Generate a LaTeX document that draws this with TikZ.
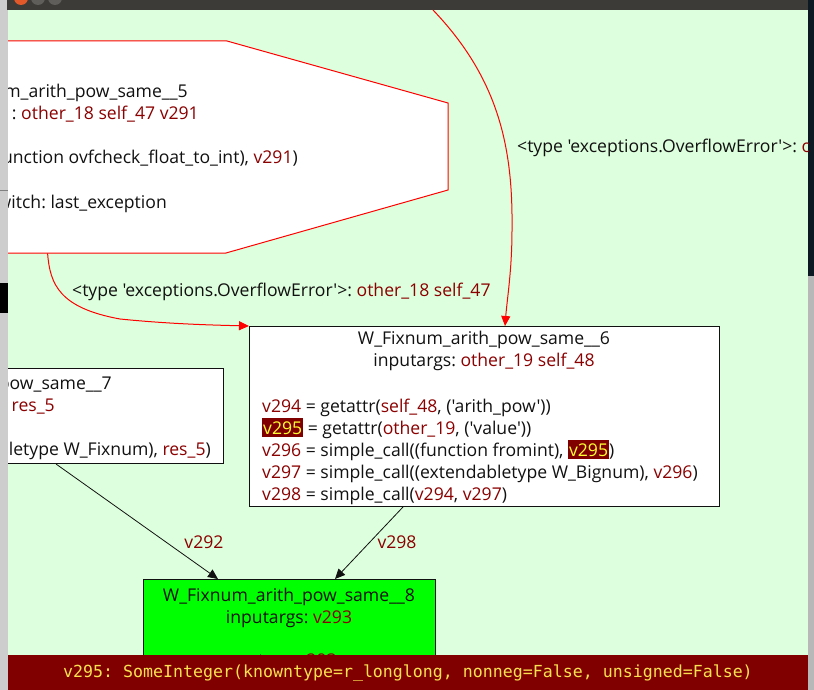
\documentclass[tikz,border=0pt]{standalone}
\usepackage{fontspec}
\newfontfamily\gf{Open Sans}
\newfontfamily\mf{DejaVu Sans Mono}
\usetikzlibrary{arrows.meta,calc}
\definecolor{bg}{RGB}{221,255,221}
\definecolor{vr}{RGB}{139,0,0}
\definecolor{sb}{RGB}{128,0,0}
\definecolor{sy}{RGB}{250,225,80}
\definecolor{hy}{RGB}{255,255,50}
\definecolor{ink}{RGB}{17,17,17}
\definecolor{gr8}{RGB}{0,255,0}
\definecolor{tbar}{RGB}{60,59,55}
\definecolor{navy}{RGB}{12,24,34}
\definecolor{chromeL}{RGB}{205,205,205}
\definecolor{chromeR}{RGB}{184,184,184}
\definecolor{btnO}{RGB}{226,88,40}
\definecolor{btnG}{RGB}{95,94,90}
\newcommand{\vv}[1]{\textcolor{vr}{#1}}
\newcommand{\hlv}[1]{{\setlength{\fboxsep}{0pt}\colorbox{sb}{\kern1pt\textcolor{hy}{\rule[-3pt]{0pt}{19pt}#1}\kern1pt}}}
\frenchspacing
\begin{document}
\begin{tikzpicture}[x=1pt,y=-1pt,
  txt/.style={inner sep=0pt, font=\gf\fontsize{17.6}{22}\selectfont, text=ink},
  blk/.style={draw=ink, line width=1pt, fill=white, inner sep=0pt},
  redge/.style={draw=red, line width=1pt, -{Triangle[length=10pt,width=9pt]}},
  bedge/.style={draw=ink, line width=0.8pt, -{Triangle[length=10pt,width=9pt]}}]
\useasboundingbox (0,0) rectangle (814,690);
% window chrome
\fill[chromeL] (0,0) rectangle (8,690);
\draw[gray, line width=1pt] (0,190) -- (8,190);
\fill[black] (0,283) rectangle (8,313);
\fill[tbar] (7,0) rectangle (808,10);
\begin{scope}
  \clip (7,0) rectangle (808,10);
  \fill[btnO] (21,-2) circle (7);
  \fill[btnG] (38,-2) circle (7);
  \fill[btnG] (55,-2) circle (7);
\end{scope}
\fill[navy] (808,0) rectangle (814,276);
\fill[chromeR] (808,276) rectangle (814,690);
% canvas
\fill[bg] (8,10) rectangle (808,690);
\begin{scope}
\clip (8,10) rectangle (808,655);
% node 5 (octagon, partly off screen)
\node[inner sep=0pt, minimum width=766pt, minimum height=212pt, anchor=north east] (n5) at (448,41) {};
\draw[red, line width=1pt, fill=white] (-330,41) -- (227,41) -- (448,103) -- (448,190) -- (226,253) -- (-330,253) -- cycle;
\node[txt, anchor=base east] (n5a) at (188,98) {m\_arith\_pow\_same\_\_5};
\node[txt, anchor=base east] (n5b) at (199,120) {: \vv{other\_18 self\_47 v291}};
\node[txt, anchor=base east] (n5c) at (298,164) {unction ovfcheck\_float\_to\_int), \vv{v291})};
\node[txt, anchor=base east] (n5d) at (167,208) {witch: last\_exception};
% node 6
\node[blk, minimum width=470pt, minimum height=180pt, anchor=north west] (n6) at (249,326) {};
\node[txt, anchor=base] (n6t) at (484,344) {W\_Fixnum\_arith\_pow\_same\_\_6};
\node[txt, anchor=base] (n6i) at (484,366) {inputargs: \vv{other\_19 self\_48}};
\node[txt, anchor=base west] (n6a) at (262,412) {\vv{v294} = getattr(\vv{self\_48}, ('arith\_pow'))};
\node[txt, anchor=base west] (n6b) at (262,434) {\hlv{v295} = getattr(\vv{other\_19}, ('value'))};
\node[txt, anchor=base west] (n6c) at (262,456) {\vv{v296} = simple\_call((function fromint), \hlv{v295})};
\node[txt, anchor=base west] (n6d) at (262,478) {\vv{v297} = simple\_call((extendabletype W\_Bignum), \vv{v296})};
\node[txt, anchor=base west] (n6e) at (262,500) {\vv{v298} = simple\_call(\vv{v294}, \vv{v297})};
% node 7 (partly off screen)
\node[blk, minimum width=469pt, minimum height=95pt, anchor=north east] (n7) at (224,368) {};
\node[txt, anchor=base east] (n7a) at (112,389) {pow\_same\_\_7};
\node[txt, anchor=base east] (n7b) at (55,411) {\vv{res\_5}};
\node[txt, anchor=base east] (n7c) at (211,455) {letype W\_Fixnum), \vv{res\_5})};
% node 8
\node[blk, fill=gr8, minimum width=292pt, minimum height=120pt, anchor=north west] (n8) at (143,579) {};
\node[txt, anchor=base] (n8t) at (289,601) {W\_Fixnum\_arith\_pow\_same\_\_8};
\node[txt, anchor=base] (n8i) at (289,623) {inputargs: \vv{v293}};
\node[txt, anchor=base] (n8r) at (289,666) {return \vv{v293}};
% edges
\coordinate (topin) at (433,10);
\draw[redge] ($(n5.south west)+(366,0)$) .. controls (50,285) and (60,308) .. (120,319)
   .. controls (170,324) and (210,325) .. (n6.north west);
\draw[redge] (topin) .. controls (500,80) and (513,150) .. (512,230)
   .. controls (512,270) and (507,300) .. ($(n6.north west)+(256,0)$);
\draw[bedge] ($(n7.south west)+(302,0)$) -- ($(n8.north west)+(75,0)$);
\draw[bedge] ($(n6.south west)+(154,0)$) -- ($(n8.north west)+(192,0)$);
% edge labels
\node[txt, anchor=base west] (l1) at (72,296) {<type 'exceptions.OverflowError'>: \vv{other\_18 self\_47}};
\node[txt, anchor=base west] (l2) at (517,153) {<type 'exceptions.OverflowError'>: \vv{o}};
\node[txt, text=vr] (l3) at (204,542) {v292};
\node[txt, text=vr] (l4) at (397,542) {v298};
\end{scope}
% status bar
\fill[sb] (8,655) rectangle (808,690);
\node[inner sep=0pt, font=\mf\fontsize{16.6}{20}\selectfont, text=sy, anchor=base] (st) at (408,677) {v295: SomeInteger(knowntype=r\_longlong, nonneg=False, unsigned=False)};
\end{tikzpicture}
\end{document}
